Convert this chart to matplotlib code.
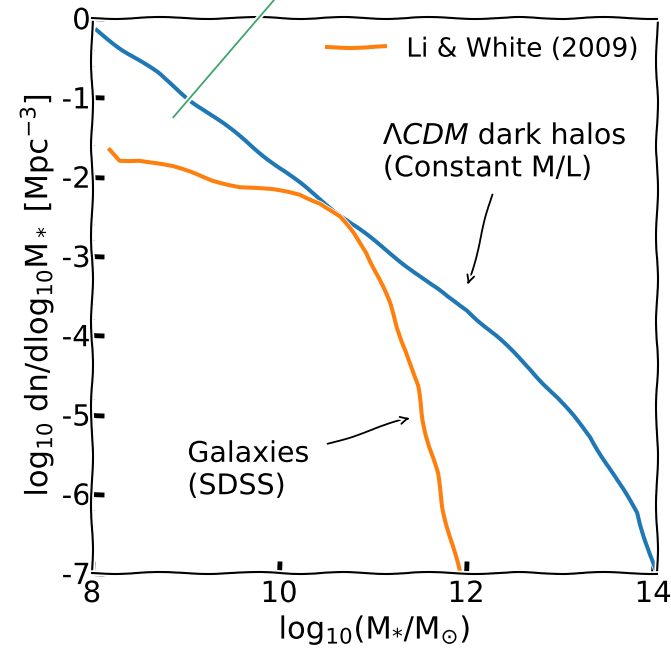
import numpy as np
import matplotlib
matplotlib.use('Agg')
import matplotlib.pyplot as plt
from matplotlib.ticker import AutoMinorLocator

# halo mass function scaled with constant M/L (blue)
halo_logm = [8.05, 8.33, 8.70, 9.05, 9.40, 9.76, 10.01, 10.36, 10.73, 11.08, 11.43,
             11.80, 12.01, 12.33, 12.68, 12.97, 13.33, 13.61, 13.83, 14.03]
halo_phi = [-0.15, -0.40, -0.69, -1.03, -1.33, -1.66, -1.89, -2.21, -2.55, -2.87, -3.18,
            -3.52, -3.68, -4.02, -4.42, -4.78, -5.28, -5.83, -6.24, -7.0]

# SDSS stellar mass function, Li & White 2009 (orange)
gal_logm = [8.19, 8.30, 8.51, 8.87, 9.05, 9.29, 9.58, 9.94, 10.12, 10.22, 10.44,
            10.65, 10.79, 10.94, 11.08, 11.18, 11.26, 11.37, 11.48, 11.54, 11.61,
            11.69, 11.75, 11.83, 11.93]
gal_phi = [-1.66, -1.79, -1.79, -1.88, -1.94, -2.04, -2.13, -2.17, -2.20, -2.22, -2.33,
           -2.51, -2.71, -2.96, -3.30, -3.60, -3.90, -4.22, -4.65, -5.07, -5.41,
           -5.74, -6.17, -6.54, -7.0]

# straight green guide line
guide_x = [8.87, 10.1]
guide_y = [-1.25, 0.44]

xticks = [8, 10, 12, 14]
yticks = [0, -1, -2, -3, -4, -5, -6, -7]

with plt.xkcd():
    plt.rcParams['font.family'] = ['DejaVu Sans']
    fig = plt.figure(figsize=(6.71, 6.49), dpi=100)
    ax = fig.add_axes([0.137, 0.117, 0.842, 0.855])

    ax.plot(halo_logm, halo_phi, color='#1f77b4', lw=2.9)
    ax.plot(gal_logm, gal_phi, color='#ff7f0e', lw=2.9, label='Li & White (2009)')
    g, = ax.plot(guide_x, guide_y, color='#3fa56e', lw=1.3, clip_on=False, zorder=5)
    g.set_sketch_params(None)

    ax.set_xlim(8, 14.04)
    ax.set_ylim(-7, 0)
    ax.set_xticks(xticks)
    ax.set_yticks(yticks)
    ax.xaxis.set_minor_locator(AutoMinorLocator())
    ax.yaxis.set_minor_locator(AutoMinorLocator())
    ax.tick_params(which='major', direction='in', length=9, width=3.5, labelsize=21)
    ax.tick_params(axis='x', which='major', pad=5)
    ax.tick_params(axis='y', which='major', pad=1)
    ax.tick_params(which='minor', direction='in', length=1.5, width=0.8, color='0.6')

    ax.set_xlabel(r'log$_{10}$(M$_{*}$/M$_{\odot}$)', fontsize=22)
    ax.set_ylabel(r'log$_{10}$ dn/dlog$_{10}$M$_*$ [Mpc$^{-3}$]', fontsize=22)

    ax.legend(loc='upper right', frameon=False, fontsize=19, handlelength=2.2,
              borderaxespad=0.3)

    ax.text(11.11, -1.69, r'$\Lambda CDM$ dark halos' + '\n(Constant M/L)',
            fontsize=20.5, ha='left', va='center')
    ax.annotate('', xy=(12.01, -3.40), xytext=(12.29, -2.19),
                arrowprops=dict(arrowstyle='->', color='k', lw=1.3))

    ax.text(9.02, -5.70, 'Galaxies\n(SDSS)', fontsize=20.5, ha='left', va='center')
    ax.annotate('', xy=(11.43, -5.03), xytext=(10.49, -5.38),
                arrowprops=dict(arrowstyle='->', color='k', lw=1.3))

    fig.savefig('out.png', dpi=100)
